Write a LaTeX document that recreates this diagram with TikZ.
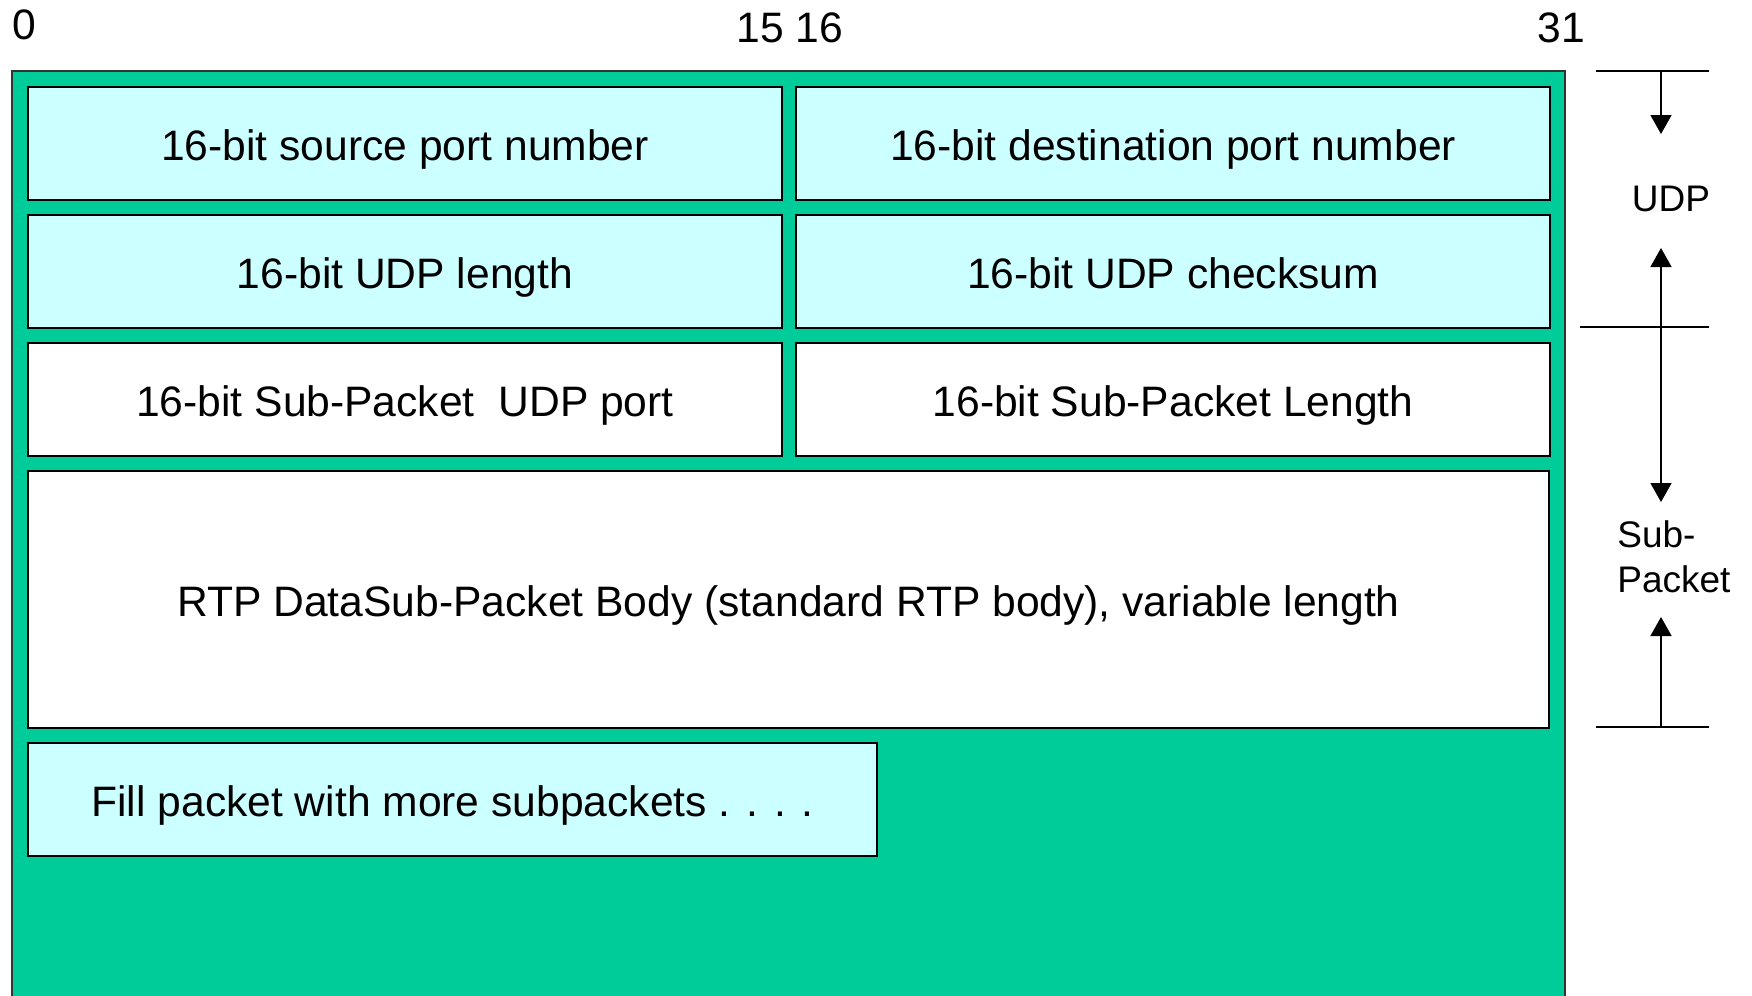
\documentclass[tikz,border=0pt]{standalone}
\usepackage{fontspec}
\setmainfont{Liberation Sans}
\usetikzlibrary{arrows.meta,positioning}
\definecolor{pktgreen}{HTML}{00CC99}
\definecolor{pktcyan}{HTML}{CCFFFF}

\begin{document}
\begin{tikzpicture}[x=0.5pt,y=-0.5pt, every node/.style={font=\fontsize{21.3}{25}\selectfont},
  field/.style={draw=black, line width=1pt, fill=pktcyan, inner sep=0pt, outer sep=0pt,
    text height=16.6pt, text depth=0pt, minimum width=377pt, minimum height=56.5pt},
  sidelbl/.style={font=\fontsize{18.5}{22.5}\selectfont, inner sep=0pt},
  tickline/.style={line width=0.8pt},
  sizearrow/.style={line width=0.8pt, -{Triangle[width=10.5pt,length=9.5pt]}}]
\useasboundingbox (0,0) rectangle (1752,996);
% packet frame
\fill[pktgreen] (12,71) rectangle (1565,996);
\draw[black!80, line width=1pt] (12,996) |- (1565,71) -- (1565,996);
% bit numbers
\node (bit0) at (24,25) {0};
\node (bit15) at (790,28) {15 16};
\node (bit31) at (1561,28) {31};
% UDP header
\node[field] (srcport) at (405,143.5) {16-bit source port number};
\node[field, right=7pt of srcport] (dstport) {16-bit destination port number};
\node[field, below=7.5pt of srcport] (udplen) {16-bit UDP length};
\node[field, below=7.5pt of dstport] (udpsum) {16-bit UDP checksum};
% sub-packet
\node[field, fill=white, below=7.5pt of udplen] (subport) {16-bit Sub-Packet\ \ UDP port};
\node[field, fill=white, below=7.5pt of udpsum] (sublen) {16-bit Sub-Packet Length};
\node[field, fill=white, minimum width=760.5pt, minimum height=128.5pt,
  below=7.5pt of subport.south west, anchor=north west] (body)
  {RTP DataSub-Packet Body (standard RTP body), variable length};
\node[field, minimum width=424.5pt, below=7.5pt of body.south west, anchor=north west] (more)
  {Fill packet with more subpackets . . . .};
% extent marks
\draw[tickline] (1596,71) -- (1709,71);
\draw[tickline] (1580,327) -- (1709,327);
\draw[tickline] (1596,727) -- (1709,727);
\coordinate (udptick) at (1661,71);
\coordinate (midtick) at (1661,327);
\coordinate (endtick) at (1661,727);
\coordinate (udpdown) at (1661,134);
\coordinate (udpup) at (1661,248);
\coordinate (subdown) at (1661,502);
\coordinate (subup) at (1661,617);
\node[sidelbl] (udplbl) at (1671,199) {UDP};
\node[sidelbl, align=left, anchor=west] (sublbl) at (1617,557) {Sub-\\Packet};
\draw[sizearrow] (udptick) -- (udpdown);
\draw[sizearrow] (midtick) -- (udpup);
\draw[sizearrow] (midtick) -- (subdown);
\draw[sizearrow] (endtick) -- (subup);
\end{tikzpicture}
\end{document}
